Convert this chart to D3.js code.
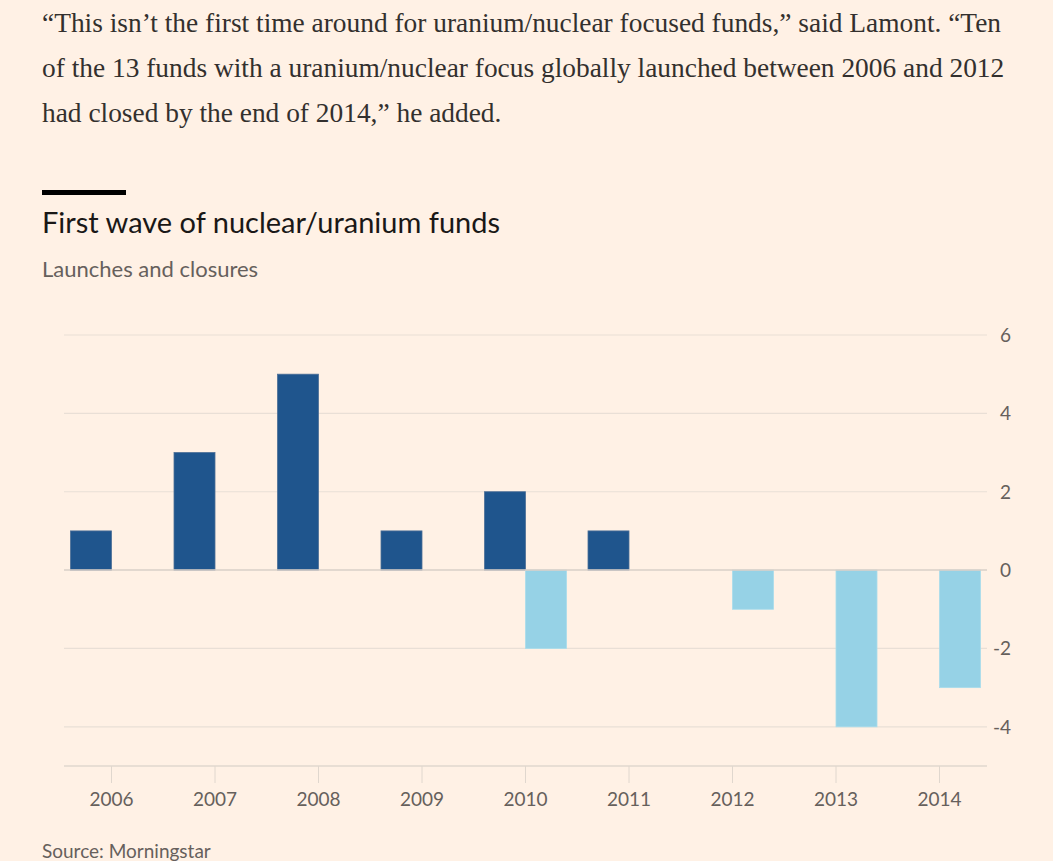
<!DOCTYPE html>
<html><head><meta charset="utf-8">
<script src="https://cdn.jsdelivr.net/npm/d3@7"></script>
<style>
html,body{margin:0;padding:0;background:#fff1e5;}
svg{display:block;}
</style></head>
<body>
<svg id="chart" width="1053" height="861"></svg>
<script>
const years = ["2006","2007","2008","2009","2010","2011","2012","2013","2014"];
const launches = [1,3,5,1,2,1,0,0,0];
const closures = [0,0,0,0,-2,0,-1,-4,-3];
const yTicks = [-4,-2,0,2,4,6];

const bodyLines = [
  "\u201CThis isn\u2019t the first time around for uranium/nuclear focused funds,\u201D said Lamont. \u201CTen",
  "of the 13 funds with a uranium/nuclear focus globally launched between 2006 and 2012",
  "had closed by the end of 2014,\u201D he added."
];
const title = "First wave of nuclear/uranium funds";
const subtitle = "Launches and closures";
const source = "Source: Morningstar";

const svg = d3.select("#chart");
svg.append("rect").attr("width",1053).attr("height",861).attr("fill","#fff1e5");

svg.selectAll("text.body").data(bodyLines).join("text")
  .attr("class","body")
  .attr("x",42).attr("y",(d,i)=>32+i*45)
  .attr("font-family","'Liberation Serif', serif")
  .attr("font-size",27.4).attr("fill","#33302e")
  .text(d=>d);

svg.append("rect").attr("x",42).attr("y",190).attr("width",84).attr("height",5).attr("fill","#000");
svg.append("text").attr("x",42).attr("y",233)
  .attr("font-family","Lato, sans-serif").attr("font-size",29).attr("fill","#1a1817").text(title);
svg.append("text").attr("x",42).attr("y",277)
  .attr("font-family","Lato, sans-serif").attr("font-size",22).attr("fill","#66605c").text(subtitle);

const x = d3.scaleBand().domain(years).range([59.75,991.25]).padding(0);
const y = d3.scaleLinear().domain([-5,6]).range([766,335]);
const plotL = 64, plotR = 987;
const barW = 41;

// gridlines
svg.append("g").selectAll("line").data(yTicks.filter(t=>t!==0)).join("line")
  .attr("x1",plotL).attr("x2",plotR)
  .attr("y1",d=>y(d)).attr("y2",d=>y(d))
  .attr("stroke","#e9dfd6").attr("stroke-width",1.2);

// y labels
svg.append("g").selectAll("text").data(yTicks).join("text")
  .attr("x",1011).attr("y",d=>y(d)+7)
  .attr("text-anchor","end")
  .attr("font-family","Lato, sans-serif").attr("font-size",19).attr("fill","#66605c")
  .text(d=>d);

// bars
const cx = d => x(d)+x.bandwidth()/2;
svg.append("g").selectAll("rect").data(years.map((yr,i)=>({yr,v:launches[i]})).filter(d=>d.v!==0)).join("rect")
  .attr("x",d=>cx(d.yr)-barW).attr("width",barW)
  .attr("y",d=>y(d.v)).attr("height",d=>y(0)-y(d.v))
  .attr("fill","#1f558d").attr("stroke","#4d6f97").attr("stroke-width",0.8);
svg.append("g").selectAll("rect").data(years.map((yr,i)=>({yr,v:closures[i]})).filter(d=>d.v!==0)).join("rect")
  .attr("x",d=>cx(d.yr)).attr("width",barW)
  .attr("y",y(0)).attr("height",d=>y(d.v)-y(0))
  .attr("fill","#96d2e6").attr("stroke","#a8dcec").attr("stroke-width",0.8);

// zero line
svg.append("line").attr("x1",plotL).attr("x2",plotR).attr("y1",y(0)).attr("y2",y(0))
  .attr("stroke","#d9cfc7").attr("stroke-width",1.5);

// bottom axis
svg.append("line").attr("x1",plotL).attr("x2",plotR).attr("y1",y(-5)).attr("y2",y(-5))
  .attr("stroke","#e0d7ce").attr("stroke-width",1.5);
svg.append("g").selectAll("line").data(years).join("line")
  .attr("x1",d=>cx(d)).attr("x2",d=>cx(d)).attr("y1",y(-5)).attr("y2",y(-5)+17)
  .attr("stroke","#e0d7ce").attr("stroke-width",1);
svg.append("g").selectAll("text").data(years).join("text")
  .attr("x",d=>cx(d)).attr("y",806).attr("text-anchor","middle")
  .attr("font-family","Lato, sans-serif").attr("font-size",19).attr("fill","#66605c")
  .text(d=>d);

svg.append("text").attr("x",42).attr("y",858)
  .attr("font-family","Lato, sans-serif").attr("font-size",19).attr("fill","#66605c").text(source);
</script>
</body></html>
